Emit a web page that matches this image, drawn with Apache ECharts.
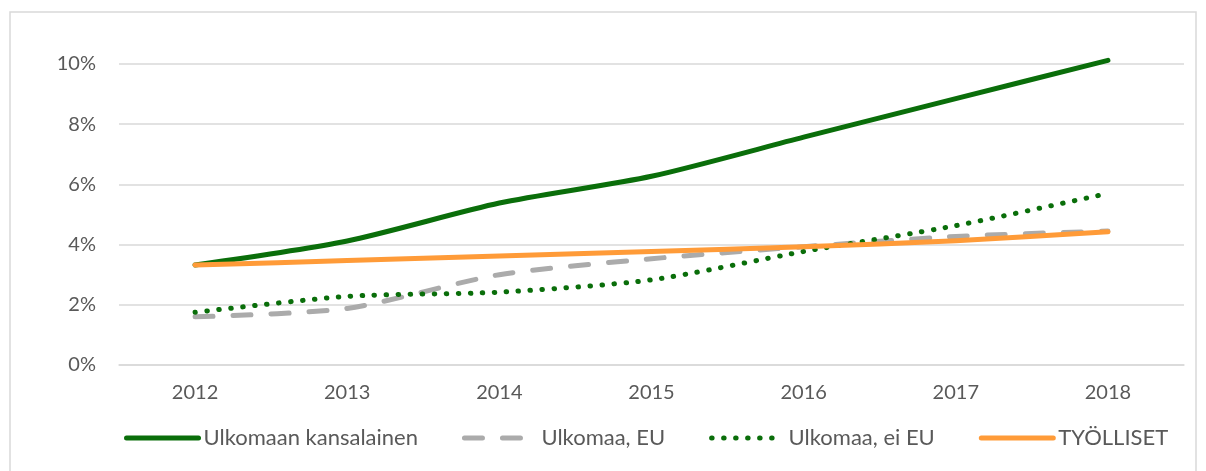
<!DOCTYPE html>
<html>
<head>
<meta charset="utf-8">
<script src="https://cdn.jsdelivr.net/npm/echarts@6/dist/echarts.min.js"></script>
<style>
  html, body { margin: 0; padding: 0; background: #fff; }
  #chart { width: 1206px; height: 471px; }
</style>
</head>
<body>
<div id="chart"></div>
<script>
// vuodet ja osuudet (%)
var years = ['2012', '2013', '2014', '2015', '2016', '2017', '2018'];
var ulkomaanKansalainen = [3.32, 4.12, 5.38, 6.27, 7.57, 8.85, 10.12];
var ulkomaaEU = [1.6, 1.88, 3.0, 3.53, 3.93, 4.27, 4.45];
var ulkomaaEiEU = [1.75, 2.28, 2.42, 2.83, 3.77, 4.63, 5.7];
var tyolliset = [3.32, 3.47, 3.62, 3.77, 3.93, 4.13, 4.43];

var textColor = '#595959';
var fontFamily = 'Lato, "Open Sans", sans-serif';

var myChart = echarts.init(document.getElementById('chart'));

function lineSeries(name, data, color, type, z) {
  return {
    name: name,
    type: 'line',
    data: data,
    smooth: 0.25,
    symbol: 'none',
    clip: false,
    z: z,
    lineStyle: { color: color, width: 5, type: type, cap: 'round', join: 'round' },
    itemStyle: { color: color }
  };
}

var option = {
  animation: false,
  graphic: [{
    type: 'rect',
    shape: { x: 10, y: 12, width: 1186, height: 480 },
    style: { fill: 'none', stroke: '#D9D9D9', lineWidth: 1.5 },
    silent: true
  }],
  grid: { left: 119, right: 22, top: 64, bottom: 106 },
  legend: {
    left: 119,
    top: 422,
    itemWidth: 72,
    itemHeight: 20,
    itemGap: 44,
    itemStyle: { opacity: 0 },
    lineStyle: { width: 5 },
    textStyle: { color: textColor, fontSize: 22, fontFamily: fontFamily },
    data: ['Ulkomaan kansalainen', 'Ulkomaa, EU', 'Ulkomaa, ei EU', 'TYÖLLISET']
  },
  xAxis: {
    type: 'category',
    data: years,
    boundaryGap: true,
    axisLine: { lineStyle: { color: '#D9D9D9', width: 1.5 } },
    axisTick: { show: false },
    axisLabel: { color: textColor, fontSize: 20, fontFamily: fontFamily, margin: 18 }
  },
  yAxis: {
    type: 'value',
    min: 0,
    max: 10,
    interval: 2,
    axisLine: { show: false },
    axisTick: { show: false },
    splitLine: { lineStyle: { color: '#D9D9D9', width: 1.5 } },
    axisLabel: { color: textColor, fontSize: 20, fontFamily: fontFamily, margin: 23, formatter: '{value}%' }
  },
  series: [
    lineSeries('Ulkomaan kansalainen', ulkomaanKansalainen, '#0A6E0A', 'solid', 2),
    lineSeries('Ulkomaa, EU', ulkomaaEU, '#ABABAB', [18, 20], 3),
    lineSeries('Ulkomaa, ei EU', ulkomaaEiEU, '#0A6E0A', [0.5, 11.5], 4),
    lineSeries('TYÖLLISET', tyolliset, '#FF9B38', 'solid', 5)
  ]
};

myChart.setOption(option);
</script>
</body>
</html>
